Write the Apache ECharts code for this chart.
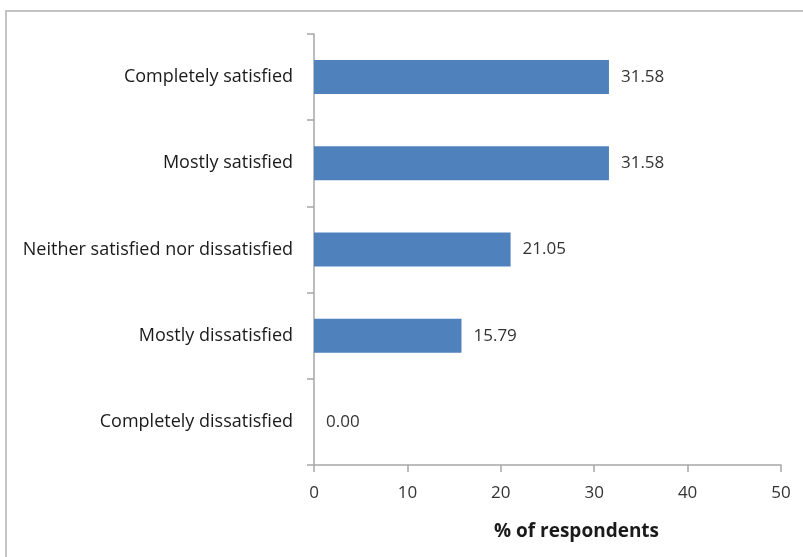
<!DOCTYPE html>
<html>
<head>
<meta charset="utf-8">
<script src="https://cdn.jsdelivr.net/npm/echarts@6/dist/echarts.min.js"></script>
<style>
  html, body { margin: 0; padding: 0; background: #ffffff; }
  #chart { width: 803px; height: 557px; }
</style>
</head>
<body>
<div id="chart"></div>
<script>
// Satisfaction levels, listed top to bottom
const categories = [
  'Completely satisfied',
  'Mostly satisfied',
  'Neither satisfied nor dissatisfied',
  'Mostly dissatisfied',
  'Completely dissatisfied'
];
// Share of respondents for each level (%)
const percentValues = [31.58, 31.58, 21.05, 15.79, 0.00];
const axisTitle = '% of respondents';

const chart = echarts.init(document.getElementById('chart'), null, { renderer: 'canvas' });
const fontFamily = '"Open Sans", Lato, sans-serif';
const axisGray = '#a6a6a6';

chart.setOption({
  animation: false,
  backgroundColor: '#ffffff',
  graphic: [{
    type: 'rect',
    shape: { x: 6, y: 11, width: 820, height: 580 },
    style: { fill: 'none', stroke: '#c4c4c4', lineWidth: 2 },
    silent: true
  }],
  grid: { left: 314, right: 22, top: 34, bottom: 92, containLabel: false },
  xAxis: {
    type: 'value',
    min: 0,
    max: 50,
    interval: 10,
    name: axisTitle,
    nameLocation: 'middle',
    nameGap: 57,
    // title sits a little right of the axis centre
    nameTextStyle: { fontFamily, fontSize: 19, fontWeight: 'bold', color: '#1a1a1a', padding: [0, 0, 0, 58] },
    axisLine: { show: true, lineStyle: { color: axisGray, width: 1.5 } },
    axisTick: { show: true, length: 7, lineStyle: { color: axisGray, width: 1.5 } },
    axisLabel: { fontFamily, fontSize: 17, color: '#333333', margin: 20 },
    splitLine: { show: false }
  },
  yAxis: {
    type: 'category',
    inverse: true,
    data: categories,
    axisLine: { show: true, lineStyle: { color: axisGray, width: 1.5 } },
    axisTick: { show: true, length: 7, alignWithLabel: false, lineStyle: { color: axisGray, width: 1.5 } },
    axisLabel: { fontFamily, fontSize: 18, color: '#1a1a1a', margin: 21 }
  },
  series: [{
    type: 'bar',
    data: percentValues,
    barWidth: 34,
    itemStyle: { color: '#4f81bd' },
    label: {
      show: true,
      position: 'right',
      distance: 12,
      fontFamily,
      fontSize: 17,
      color: '#333333',
      formatter: p => p.value.toFixed(2)
    }
  }]
});
</script>
</body>
</html>
